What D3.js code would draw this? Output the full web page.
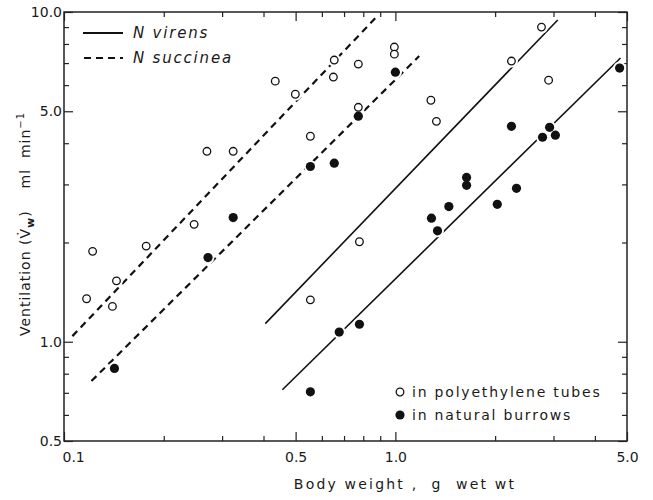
<!DOCTYPE html>
<html>
<head>
<meta charset="utf-8">
<script src="https://cdn.jsdelivr.net/npm/d3@7"></script>
<style>
  body { margin: 0; background: #fff; }
  svg text { font-family: "DejaVu Sans", sans-serif; fill: #1a1a1a; }
</style>
</head>
<body>
<svg id="chart" width="653" height="500"></svg>
<script>

// body weight (g wet wt) and ventilation (ml/min)
var tubeWeight = [0.117, 0.122, 0.140, 0.144, 0.177, 0.247, 0.270, 0.324, 0.434, 0.499,
                  0.554, 0.554, 0.654, 0.650, 0.773, 0.773, 0.779, 0.993, 0.993, 1.28,
                  1.33, 2.24, 2.76, 2.90];
var tubeVent   = [1.35, 1.88, 1.28, 1.53, 1.95, 2.27, 3.78, 3.78, 6.17, 5.63,
                  4.20, 1.34, 7.15, 6.35, 6.95, 5.14, 2.01, 7.83, 7.45, 5.40,
                  4.66, 7.10, 9.00, 6.21];

var burrowWeight = [0.142, 0.272, 0.324, 0.554, 0.554, 0.654, 0.677, 0.773, 0.779, 1.0,
                    1.285, 1.34, 1.45, 1.64, 1.64, 2.03, 2.32, 2.24, 2.78, 2.92,
                    3.04, 4.75];
var burrowVent   = [0.83, 1.80, 2.38, 3.40, 0.705, 3.48, 1.07, 4.83, 1.13, 6.57,
                    2.37, 2.17, 2.57, 3.15, 2.98, 2.61, 2.92, 4.50, 4.17, 4.47,
                    4.23, 6.76];

// regression lines, [weight, ventilation] at each end
var succineaTubeFit   = [[0.106, 1.04], [0.882, 9.72]];
var succineaBurrowFit = [[0.121, 0.76], [1.18, 7.35]];
var virensTubeFit     = [[0.405, 1.135], [3.09, 9.46]];
var virensBurrowFit   = [[0.456, 0.715], [4.78, 7.25]];

var xMajor = [0.1, 0.5, 1, 5];
var xMinor = [0.2, 0.3, 0.4, 0.6, 0.7, 0.8, 0.9, 2, 3, 4];
var yMajor = [0.5, 1, 5, 10];
var yMinor = [0.6, 0.7, 0.8, 0.9, 2, 3, 4, 6, 7, 8, 9];
var xTickLabels = ["0.1", "0.5", "1.0", "5.0"];
var yTickLabels = ["0.5", "1.0", "5.0", "10.0"];

var plotL = 64, plotR = 627, plotT = 12, plotB = 441;

var svg = d3.select("#chart");

var x = d3.scaleLog().domain([0.1, 5]).range([plotL, plotR]);
var y = d3.scaleLog().domain([0.5, 10]).range([plotB, plotT]);

// ticks, all pointing into the plot
function drawAxis(axis, transform, vals, size, labels){
    var g = svg.append("g")
        .attr("transform", transform)
        .call(axis.tickValues(vals).tickSize(-size)
            .tickFormat(function(d, i){ return labels ? labels[i] : ""; }));
    g.select(".domain").remove();
    g.selectAll("line").attr("stroke", "#222").attr("stroke-width", 1.2);
    g.selectAll("text").style("font-size", "14px").attr("fill", "#222");
    return g;
}

drawAxis(d3.axisBottom(x), "translate(0," + plotB + ")", xMinor, 5);
var xg = drawAxis(d3.axisBottom(x).tickPadding(11), "translate(0," + plotB + ")", xMajor, 9, xTickLabels);
xg.selectAll("text").filter(function(d){ return d == 0.1; }).attr("text-anchor", "start").attr("dx", -2);
drawAxis(d3.axisTop(x), "translate(0," + plotT + ")", xMinor, 5);
drawAxis(d3.axisTop(x), "translate(0," + plotT + ")", xMajor, 9);

drawAxis(d3.axisLeft(y), "translate(" + plotL + ",0)", yMinor, 5);
drawAxis(d3.axisLeft(y).tickPadding(2), "translate(" + plotL + ",0)", yMajor, 9, yTickLabels);
drawAxis(d3.axisRight(y), "translate(" + plotR + ",0)", yMinor, 5);
drawAxis(d3.axisRight(y), "translate(" + plotR + ",0)", yMajor, 9);

svg.append("rect")
    .attr("x", plotL).attr("y", plotT)
    .attr("width", plotR - plotL).attr("height", plotB - plotT)
    .attr("fill", "none").attr("stroke", "#222").attr("stroke-width", 1.5);

// fitted lines
var line = d3.line()
    .x(function(d){ return x(d[0]); })
    .y(function(d){ return y(d[1]); });

[succineaTubeFit, succineaBurrowFit].forEach(function(f){
    svg.append("path").attr("d", line(f))
        .attr("fill", "none").attr("stroke", "#111")
        .attr("stroke-width", 2.2).attr("stroke-dasharray", "7,5");
});
[virensTubeFit, virensBurrowFit].forEach(function(f){
    svg.append("path").attr("d", line(f))
        .attr("fill", "none").attr("stroke", "#111").attr("stroke-width", 1.6);
});

// points: white halo so the lines break around them
var tubes = tubeWeight.map(function(w, i){ return [w, tubeVent[i]]; });
var burrows = burrowWeight.map(function(w, i){ return [w, burrowVent[i]]; });

svg.append("g").selectAll("circle")
    .data(tubes.concat(burrows))
    .enter().append("circle")
    .attr("cx", function(d){ return x(d[0]); })
    .attr("cy", function(d){ return y(d[1]); })
    .attr("r", 6.5)
    .attr("fill", "#fff");

svg.append("g").selectAll("circle")
    .data(tubes)
    .enter().append("circle")
    .attr("cx", function(d){ return x(d[0]); })
    .attr("cy", function(d){ return y(d[1]); })
    .attr("r", 3.8)
    .attr("fill", "#fff")
    .attr("stroke", "#111")
    .attr("stroke-width", 1.3);

svg.append("g").selectAll("circle")
    .data(burrows)
    .enter().append("circle")
    .attr("cx", function(d){ return x(d[0]); })
    .attr("cy", function(d){ return y(d[1]); })
    .attr("r", 4.6)
    .attr("fill", "#111");

// species legend (top left)
svg.append("line").attr("x1", 83).attr("x2", 123).attr("y1", 33).attr("y2", 33)
    .attr("stroke", "#111").attr("stroke-width", 2);
svg.append("line").attr("x1", 84).attr("x2", 123).attr("y1", 58).attr("y2", 58)
    .attr("stroke", "#111").attr("stroke-width", 2.2).attr("stroke-dasharray", "7,5");
svg.append("text").attr("x", 133).attr("y", 38).text("N virens")
    .style("font-size", "15px").style("font-style", "italic").style("letter-spacing", "1.8px");
svg.append("text").attr("x", 133).attr("y", 63).text("N succinea")
    .style("font-size", "15px").style("font-style", "italic").style("letter-spacing", "1.8px");

// condition legend (bottom right)
svg.append("circle").attr("cx", 400).attr("cy", 392).attr("r", 3.8)
    .attr("fill", "#fff").attr("stroke", "#111").attr("stroke-width", 1.3);
svg.append("circle").attr("cx", 400).attr("cy", 415).attr("r", 4.6).attr("fill", "#111");
svg.append("text").attr("x", 412).attr("y", 397).text("in polyethylene tubes")
    .style("font-size", "14px").style("letter-spacing", "1.8px");
svg.append("text").attr("x", 412).attr("y", 420).text("in natural burrows")
    .style("font-size", "14px").style("letter-spacing", "1.8px");

// axis titles
svg.append("text")
    .attr("x", 405).attr("y", 489)
    .attr("text-anchor", "middle")
    .attr("xml:space", "preserve")
    .style("white-space", "pre")
    .style("font-size", "14px").style("letter-spacing", "2.2px")
    .text("Body weight ,  g  wet wt");

var yt = svg.append("text")
    .attr("transform", "translate(30,224) rotate(-90)")
    .attr("text-anchor", "middle")
    .style("white-space", "pre")
    .style("font-size", "14px").style("letter-spacing", "1px");
yt.append("tspan").text("Ventilation (V\u0307");
yt.append("tspan").attr("dy", 4).style("font-size", "11px").style("font-weight", "bold").text("w");
yt.append("tspan").attr("dy", -4).text(")    ml  min");
yt.append("tspan").attr("dy", -6).style("font-size", "10px").text("\u22121");

</script>
</body>
</html>
